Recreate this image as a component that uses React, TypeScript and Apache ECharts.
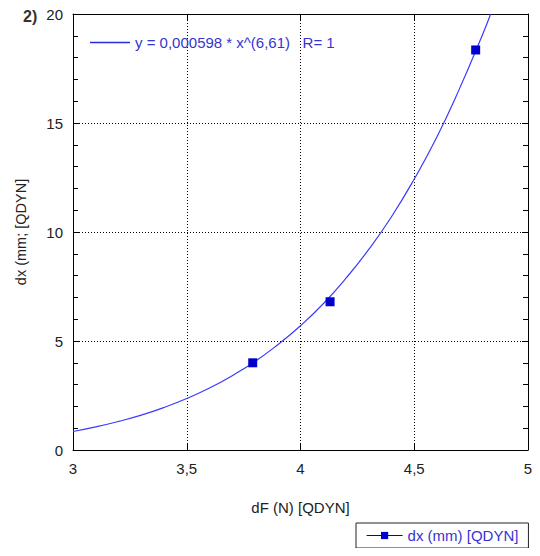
import React, { useEffect, useRef } from "react";
import * as echarts from "echarts";

const fitX = [3.0, 3.1, 3.2, 3.3, 3.4, 3.5, 3.6, 3.7, 3.8, 3.9, 4.0, 4.1, 4.2, 4.3, 4.4, 4.5, 4.6, 4.7, 4.8, 4.836];
const fitY = [0.85, 1.06, 1.31, 1.6, 1.95, 2.36, 2.84, 3.41, 4.06, 4.83, 5.7, 6.71, 7.88, 9.2, 10.7, 12.43, 14.37, 16.6, 19.05, 20.0];
const ptX = [3.79, 4.13, 4.77];
const ptY = [4.0, 6.8, 18.35];
const fitName = "y = 0,000598 * x^(6,61)   R= 1";
const ptName = "dx (mm) [QDYN]";
const xTitle = "dF (N) [QDYN]";
const yTitle = "dx (mm; [QDYN]";
const panelLabel = "2)";

const FONT = "Liberation Sans, Arial, sans-serif";

export default function App() {
  const ref = useRef<HTMLDivElement>(null);
  useEffect(() => {
    if (!ref.current) return;
    const chart = echarts.init(ref.current, null, { renderer: "svg" });
    const fmt = (v: number) => String(v).replace(".", ",");
    const axisCommon = {
      axisLine: { show: true, onZero: false, lineStyle: { color: "#000", width: 1 } },
      axisTick: { show: true, inside: true, length: 6, lineStyle: { color: "#000" } },
    };
    chart.setOption({
      animation: false,
      backgroundColor: "#fff",
      title: {
        text: panelLabel,
        left: 18,
        top: 3,
        textStyle: { fontFamily: FONT, fontSize: 16, fontWeight: "bold", color: "#333" },
      },
      grid: { left: 73, right: 12, top: 14, bottom: 106, containLabel: false },
      xAxis: [
        {
          type: "value",
          min: 3,
          max: 5,
          interval: 0.5,
          position: "bottom",
          name: xTitle,
          nameLocation: "middle",
          nameGap: 50,
          nameTextStyle: { fontFamily: FONT, fontSize: 15, color: "#222" },
          ...axisCommon,
          axisLabel: { margin: 11, fontFamily: FONT, fontSize: 15, color: "#222", formatter: fmt },
          splitLine: { show: true, lineStyle: { color: "#000", type: [1, 2], width: 1 } },
        },
        {
          type: "value",
          min: 3,
          max: 5,
          interval: 0.5,
          position: "top",
          ...axisCommon,
          axisLabel: { show: false },
          splitLine: { show: false },
        },
      ],
      yAxis: [
        {
          type: "value",
          min: 0,
          max: 20,
          interval: 5,
          position: "left",
          name: yTitle,
          nameLocation: "middle",
          nameGap: 45,
          nameTextStyle: { fontFamily: FONT, fontSize: 14.5, color: "#222" },
          ...axisCommon,
          minorTick: { show: true, splitNumber: 5, length: 5, lineStyle: { color: "#000" } },
          axisLabel: { margin: 10, fontFamily: FONT, fontSize: 15, color: "#222", formatter: fmt },
          splitLine: { show: true, lineStyle: { color: "#000", type: [1, 2], width: 1 } },
        },
        {
          type: "value",
          min: 0,
          max: 20,
          interval: 5,
          position: "right",
          ...axisCommon,
          minorTick: { show: true, splitNumber: 5, length: 5, lineStyle: { color: "#000" } },
          axisLabel: { show: false },
          splitLine: { show: false },
        },
      ],
      legend: [
        {
          data: [{ name: fitName, icon: "rect" }],
          left: 85,
          top: 30,
          itemWidth: 40,
          itemHeight: 1.3,
          textStyle: { fontFamily: FONT, fontSize: 15, color: "#3535d0" },
          itemStyle: { color: "#2a2ad8", borderWidth: 0 },
        },
        {
          data: [ptName],
          left: 356,
          top: 523,
          padding: [5, 10, 5, 10],
          itemWidth: 36,
          itemHeight: 9,
          borderColor: "#222",
          borderWidth: 1,
          borderRadius: 0,
          textStyle: { fontFamily: FONT, fontSize: 15, color: "#3535d0" },
          lineStyle: { color: "#0000cc", width: 1.2, opacity: 1 },
        },
      ],
      series: [
        {
          name: fitName,
          type: "line",
          data: fitX.map((x, i) => [x, fitY[i]]),
          smooth: true,
          showSymbol: false,
          symbol: "none",
          lineStyle: { color: "#3a3aff", width: 1.2 },
          itemStyle: { color: "#3a3aff" },
          z: 2,
        },
        {
          name: ptName,
          type: "line",
          data: ptX.map((x, i) => [x, ptY[i]]),
          symbol: "rect",
          symbolSize: 9,
          showSymbol: true,
          itemStyle: { color: "#0000cc" },
          lineStyle: { width: 0, opacity: 0 },
          z: 3,
        },
      ],
    });
    return () => chart.dispose();
  }, []);
  return <div ref={ref} style={{ width: 540, height: 556, margin: -8 }} />;
}
